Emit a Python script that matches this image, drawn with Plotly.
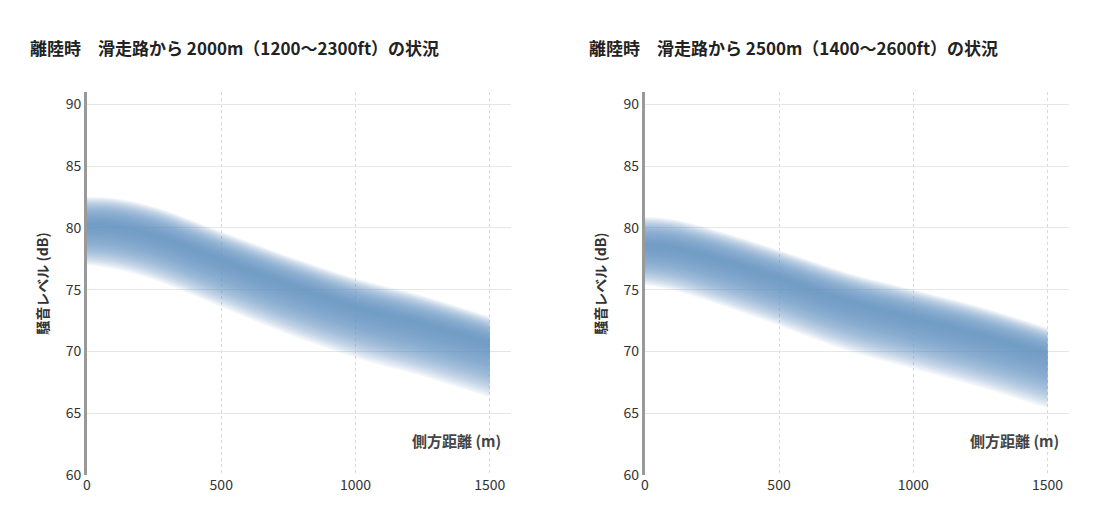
import plotly.graph_objects as go
from plotly.subplots import make_subplots

distance = [0, 100, 250, 500, 750, 1000, 1250, 1500]
center_2000 = [80.2, 80.1, 79.4, 77.4, 75.4, 73.6, 72.2, 70.7]
center_2500 = [78.6, 78.4, 77.6, 75.9, 74.1, 72.7, 71.3, 69.8]
upper_spread = [2.3, 2.3, 2.3, 2.3, 2.3, 2.3, 2.3, 2.1]
lower_spread = [3.2, 3.4, 3.6, 3.8, 4.0, 4.1, 4.2, 4.4]
titles = ["離陸時　滑走路から 2000m（1200〜2300ft）の状況",
          "離陸時　滑走路から 2500m（1400〜2600ft）の状況"]
x_ticks = [0, 500, 1000, 1500]
y_ticks = [60, 65, 70, 75, 80, 85, 90]

FONT = "Noto Sans CJK JP"
fig = make_subplots(rows=1, cols=2, horizontal_spacing=0.136)
n = 26
for col, center in [(1, center_2000), (2, center_2500)]:
    for k in range(n, 0, -1):
        f = k / n
        hi = [c + u * f for c, u in zip(center, upper_spread)]
        lo = [c - d * f for c, d in zip(center, lower_spread)]
        fig.add_trace(go.Scatter(x=distance, y=lo, mode="lines", line=dict(width=0, shape="spline"),
                                 showlegend=False, hoverinfo="skip"), row=1, col=col)
        fig.add_trace(go.Scatter(x=distance, y=hi, mode="lines", line=dict(width=0, shape="spline"),
                                 fill="tonexty", fillcolor="rgba(100,155,195,0.085)",
                                 showlegend=False, hoverinfo="skip"), row=1, col=col)
    fig.update_xaxes(range=[0, 1580], tickvals=x_ticks, showgrid=True, gridcolor="#d8d8d8",
                     griddash="dot", zeroline=False, showline=False, ticks="",
                     tickfont=dict(family=FONT, size=14, color="#333"), row=1, col=col)
    fig.update_yaxes(range=[60, 91], tickvals=y_ticks, showgrid=True, gridcolor="#e6e6e6",
                     zeroline=False, showline=True, linecolor="#999", linewidth=3, ticks="",
                     tickfont=dict(family=FONT, size=14, color="#333"),
                     title=dict(text="<b>騒音レベル (dB)</b>", font=dict(family=FONT, size=14, color="#333"), standoff=14),
                     row=1, col=col)
    xr = "x domain" if col == 1 else "x2 domain"
    yr = "y domain" if col == 1 else "y2 domain"
    fig.add_annotation(x=0.98, y=0.09, xref=xr, yref=yr, text="<b>側方距離 (m)</b>", showarrow=False,
                       xanchor="right", yanchor="middle", font=dict(family=FONT, size=15, color="#444"))

for i, t in enumerate(titles):
    fig.add_annotation(x=-0.06 if i == 0 else 0.509, y=1.115, xref="paper", yref="paper", text="<b>" + t + "</b>",
                       showarrow=False, xanchor="left", yanchor="middle",
                       font=dict(family=FONT, size=17, color="#222"))

fig.update_layout(width=1112, height=532, plot_bgcolor="white", paper_bgcolor="white",
                  margin=dict(l=79, r=51, t=84, b=65))
fig.write_html("out.html")
